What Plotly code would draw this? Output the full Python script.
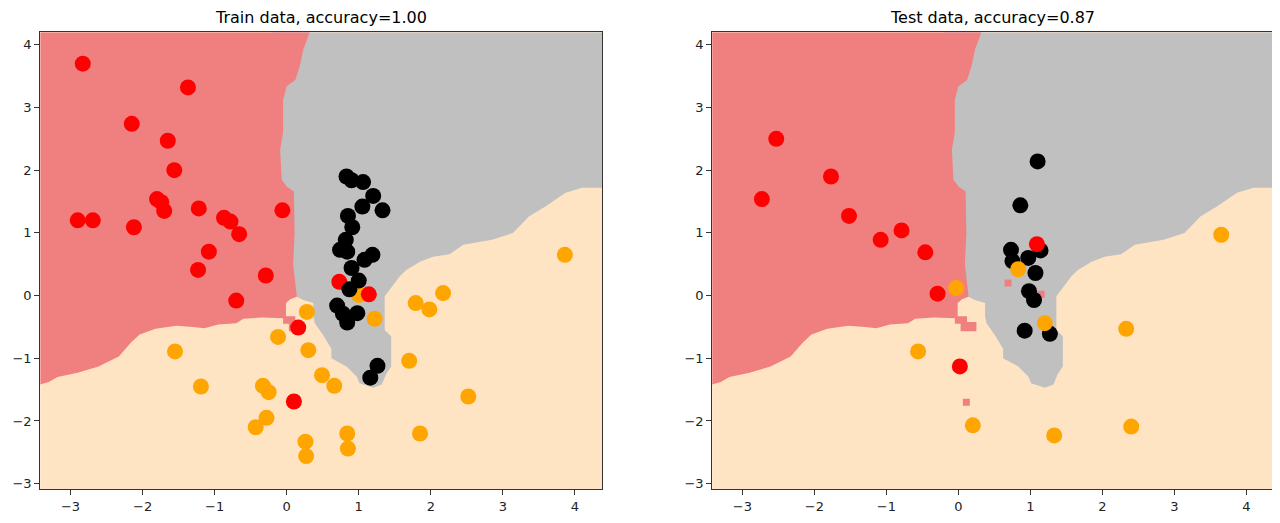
import plotly.graph_objects as go
from plotly.subplots import make_subplots

# axis limits of the mesh (both panels)
x_range = [-3.42, 4.38]
y_range = [-3.09, 4.20]

# decision regions
red_x = [-3.42, 0.32, 0.23, 0.18, 0.12, 0.0, -0.05, -0.05, -0.09, -0.07, 0.0, 0.10,
         0.11, 0.09, 0.13, 0.14, 0.05, -0.01, -0.01, 0.12, 0.12, 0.25, 0.25, 0.03,
         0.03, -0.05, -0.05, -0.34, -0.60, -0.70, -0.95, -1.14, -1.30, -1.53, -1.82,
         -2.04, -2.16, -2.33, -2.61, -2.90, -3.18, -3.30, -3.42]
red_y = [4.20, 4.20, 3.92, 3.65, 3.44, 3.34, 3.12, 2.60, 2.33, 1.85, 1.74, 1.66,
         1.00, 0.50, 0.10, -0.02, -0.06, -0.12, -0.33, -0.33, -0.42, -0.42, -0.57, -0.57,
         -0.45, -0.45, -0.36, -0.35, -0.37, -0.44, -0.46, -0.52, -0.50, -0.48, -0.53,
         -0.62, -0.75, -0.97, -1.13, -1.23, -1.30, -1.38, -1.42]

gray_x = [-0.20, 4.38, 4.38, 4.10, 3.87, 3.59, 3.36, 3.14, 2.85, 2.45, 2.26, 2.03,
          1.85, 1.66, 1.57, 1.43, 1.36, 1.36, 1.45, 1.45, 1.38, 1.32, 1.20, 1.01,
          0.97, 0.83, 0.62, 0.62, 0.50, 0.39, 0.37, 0.37, 0.23, 0.14, -0.20]
gray_y = [4.20, 4.20, 1.72, 1.72, 1.64, 1.42, 1.26, 1.00, 0.89, 0.81, 0.66, 0.62,
          0.54, 0.41, 0.31, 0.09, -0.01, -0.55, -0.65, -1.13, -1.25, -1.42, -1.47, -1.40,
          -1.29, -1.13, -1.00, -0.85, -0.62, -0.44, -0.33, -0.12, -0.07, -0.02, -0.02]

# single red cells inside other regions
speck_x = [0.69, 1.15, 0.11]
speck_y = [0.20, 0.02, -1.70]

# train points
train_red_x = [-2.83, -1.37, -2.15, -1.65, -1.56, -1.80, -1.74, -1.70, -1.22, -2.90, -2.69, -2.12,
               -0.87, -0.78, -0.66, -1.08, -0.06, -1.23, -0.29, -0.70, 0.16, 0.10, 0.73, 1.14]
train_red_y = [3.70, 3.32, 2.74, 2.47, 2.00, 1.54, 1.49, 1.35, 1.39, 1.20, 1.20, 1.09,
               1.24, 1.18, 0.98, 0.70, 1.36, 0.41, 0.32, -0.08, -0.51, -1.69, 0.22, 0.02]
train_black_x = [0.83, 0.90, 1.06, 1.20, 1.05, 1.33, 0.85, 0.91, 0.82, 0.74, 0.84,
                 1.19, 1.08, 0.90, 1.00, 0.87, 0.70, 0.78, 0.98, 0.84, 1.26, 1.16]
train_black_y = [1.90, 1.84, 1.81, 1.59, 1.42, 1.36, 1.27, 1.09, 0.89, 0.73, 0.70,
                 0.65, 0.57, 0.44, 0.24, 0.10, -0.16, -0.29, -0.28, -0.43, -1.12, -1.31]
train_orange_x = [3.86, 0.28, -0.12, 0.30, -1.55, 1.79, 1.98, 2.17, 1.22, 1.00, 1.70, 0.49,
                  0.66, -1.19, -0.33, -0.25, 2.52, -0.28, -0.43, 0.84, 1.85, 0.26, 0.85, 0.27]
train_orange_y = [0.65, -0.26, -0.66, -0.87, -0.89, -0.12, -0.22, 0.04, -0.37, 0.01, -1.04, -1.27,
                  -1.44, -1.45, -1.44, -1.54, -1.61, -1.95, -2.10, -2.20, -2.20, -2.33, -2.44, -2.56]

# test points
test_red_x = [-2.53, -1.77, -2.73, -1.52, -0.79, -1.08, -0.46, 1.09, -0.29, 0.02]
test_red_y = [2.50, 1.90, 1.54, 1.27, 1.04, 0.89, 0.69, 0.82, 0.03, -1.13]
test_black_x = [1.10, 0.86, 0.73, 1.14, 0.75, 0.97, 1.07, 0.98, 1.05, 0.92, 1.27]
test_black_y = [2.14, 1.44, 0.73, 0.72, 0.55, 0.60, 0.36, 0.07, -0.07, -0.56, -0.61]
test_orange_x = [3.65, -0.03, 0.83, 1.20, -0.56, 2.33, 0.20, 1.33, 2.40]
test_orange_y = [0.97, 0.12, 0.42, -0.44, -0.89, -0.53, -2.07, -2.23, -2.09]

titles = ["Train data, accuracy=1.00", "Test data, accuracy=0.87"]

LIGHT_RED = "#F08080"
LIGHT_GRAY = "#C0C0C0"
LIGHT_ORANGE = "#FFE4C4"

fig = make_subplots(rows=1, cols=2)


def add_panel(col, points):
    fig.add_trace(go.Scatter(x=gray_x, y=gray_y, fill="toself", fillcolor=LIGHT_GRAY,
                             mode="lines", line=dict(width=0), hoverinfo="skip"),
                  row=1, col=col)
    fig.add_trace(go.Scatter(x=red_x, y=red_y, fill="toself", fillcolor=LIGHT_RED,
                             mode="lines", line=dict(width=0), hoverinfo="skip"),
                  row=1, col=col)
    fig.add_trace(go.Scatter(x=speck_x, y=speck_y, mode="markers",
                             marker=dict(symbol="square", size=7, color=LIGHT_RED)),
                  row=1, col=col)
    for xs, ys, c in points:
        fig.add_trace(go.Scatter(x=xs, y=ys, mode="markers",
                                 marker=dict(size=16, color=c, line=dict(width=0))),
                      row=1, col=col)


add_panel(1, [(train_orange_x, train_orange_y, "#FFA500"),
              (train_red_x, train_red_y, "#FF0000"),
              (train_black_x, train_black_y, "#000000")])
add_panel(2, [(test_black_x, test_black_y, "#000000"),
              (test_red_x, test_red_y, "#FF0000"),
              (test_orange_x, test_orange_y, "#FFA500")])

axis_style = dict(showline=True, linecolor="#333", linewidth=1, mirror=True,
                  ticks="outside", ticklen=5, tickcolor="#333", showgrid=False,
                  zeroline=False, automargin=False,
                  tickfont=dict(family="DejaVu Sans", size=13, color="#222"),
                  dtick=1)
fig.update_xaxes(**axis_style)
fig.update_yaxes(range=y_range, **axis_style)

# the page body adds an 8px margin, so the figure is a bit smaller than the window
fig.update_layout(
    width=1264,
    height=507,
    margin=dict(l=0, r=0, t=0, b=0, autoexpand=False),
    showlegend=False,
    paper_bgcolor="white",
    plot_bgcolor=LIGHT_ORANGE,
    xaxis=dict(domain=[0.0255, 0.4702], range=x_range),
    xaxis2=dict(domain=[0.5571, 1.0], range=[x_range[0], 4.355]),
    yaxis=dict(domain=[0.0507, 0.9521]),
    yaxis2=dict(domain=[0.0507, 0.9521]),
)

for i, t in enumerate(titles):
    fig.add_annotation(text=t, xref="paper", yref="paper",
                       x=[0.2476, 0.7785][i], y=0.9822, showarrow=False,
                       xanchor="center", yanchor="middle",
                       font=dict(family="DejaVu Sans", size=16, color="black"))

fig.write_html("out.html")
